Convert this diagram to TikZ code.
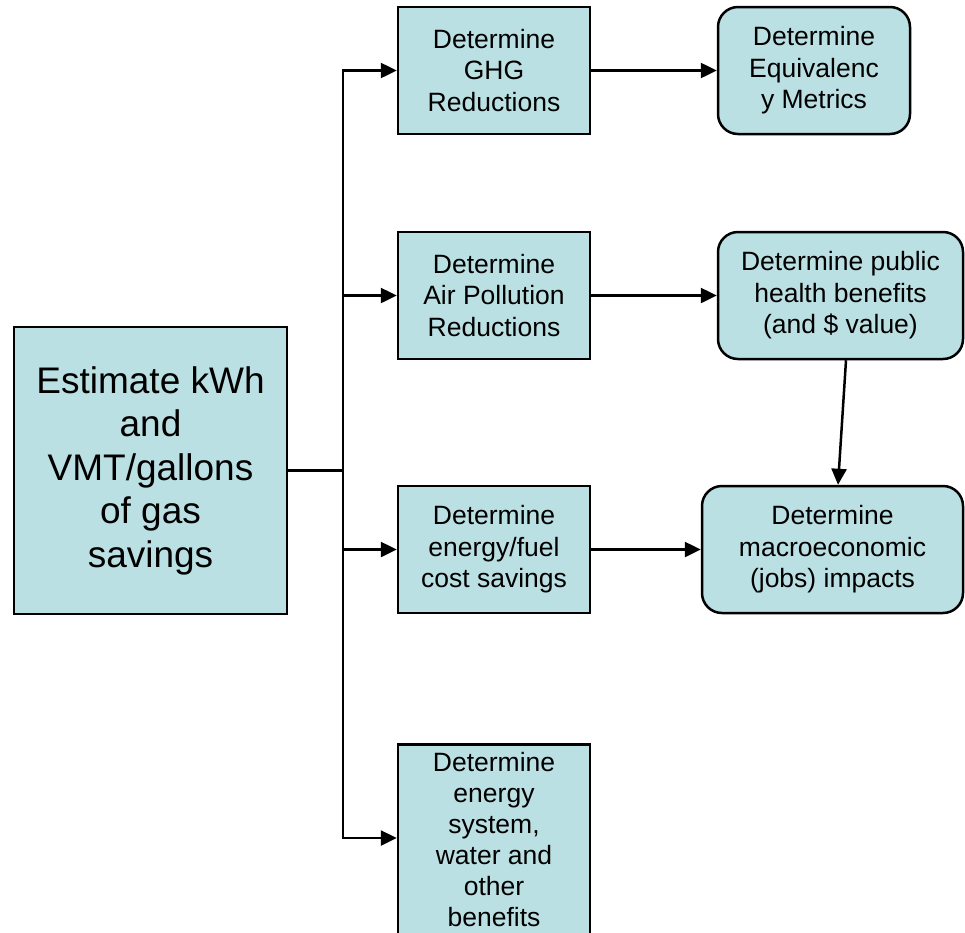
\documentclass[tikz,border=0pt]{standalone}
\usepackage{fontspec}
\setmainfont{Liberation Sans}
\usepackage{tikz}
\usetikzlibrary{positioning,arrows.meta}
\definecolor{boxclr}{RGB}{187,224,227}
\tikzset{
  stepbox/.style={draw=black, line width=2.5pt, fill=boxclr, align=center,
    minimum width=192pt, minimum height=127pt, inner sep=0pt,
    font=\fontsize{26.5}{31.5}\selectfont},
  roundbox/.style={stepbox, rounded corners=20pt},
  link/.style={line width=2.5pt, -{Triangle[length=16pt,width=15pt]}}
}

\begin{document}
\begin{tikzpicture}[x=1pt,y=-1pt]%[remember picture,overlay]
\useasboundingbox (0,0) rectangle (965,932);
\clip (0,0) rectangle (965,932);
\node[stepbox, minimum width=273pt, minimum height=287pt, font=\fontsize{37}{43.5}\selectfont] (savings) at (150.5,470.5) {Estimate kWh\\and\\VMT/gallons\\of gas\\savings};
\node[stepbox] (ghg) at (494,70.5) {Determine\\GHG\\Reductions};
\node[stepbox] (air) at (494,295.5) {Determine\\Air Pollution\\Reductions};
\node[stepbox] (cost) at (494,549.5) {Determine\\energy/fuel\\cost savings};
\node[stepbox, anchor=north, inner ysep=8pt, font=\fontsize{26.5}{31}\selectfont] (other) at (494,743) {Determine\\energy\\system,\\water and\\other\\benefits};
\node[roundbox] (equiv) at (814,70.5) {Determine\\Equivalenc\\y Metrics};
\node[roundbox, minimum width=245pt] (health) at (840.5,295.5) {Determine public\\health benefits\\(and \$ value)};
\node[roundbox, minimum width=261pt] (macro) at (832.5,549.5) {Determine\\macroeconomic\\(jobs) impacts};
\coordinate (split) at (343,470.5);
\draw[line width=2.5pt] (savings.east) -- (split);
\draw[link] (split) |- (ghg.west);
\draw[link] (split) |- (air.west);
\draw[link] (split) |- (cost.west);
\draw[link] (split) |- ([yshift=-95pt]other.north west);
\draw[link] (ghg.east) -- (equiv.west);
\draw[link] (air.east) -- (health.west);
\draw[link] (cost.east) -- (macro.west);
\draw[link] ([xshift=5.5pt]health.south) -- ([xshift=5.5pt]macro.north);
\end{tikzpicture}
\end{document}
